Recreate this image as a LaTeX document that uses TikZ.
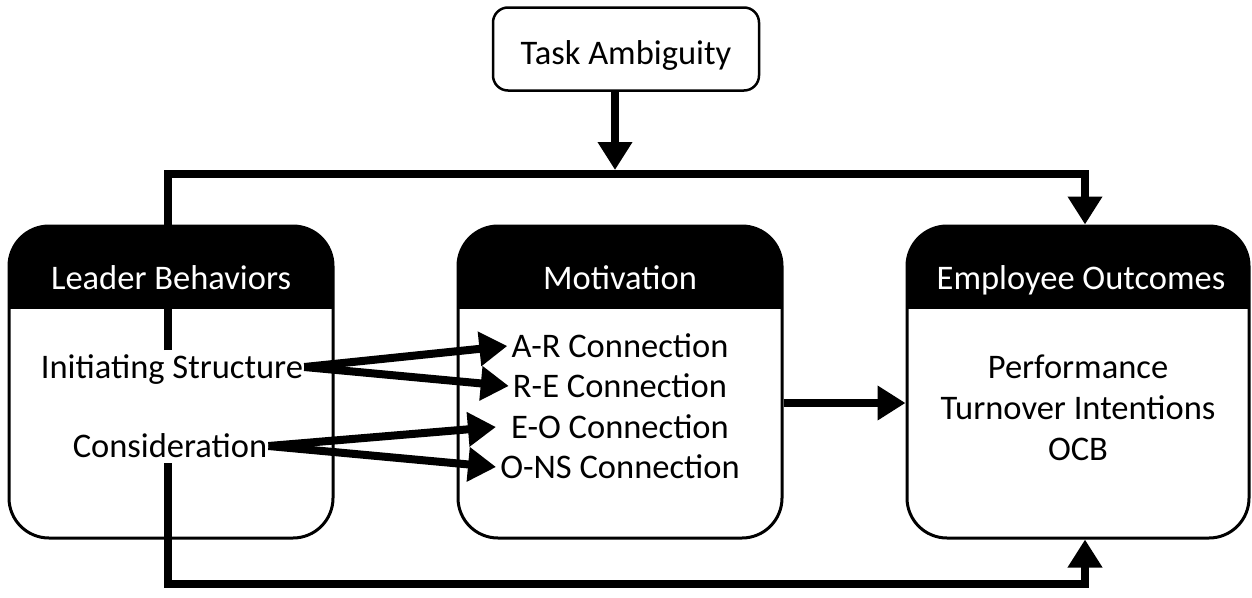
\documentclass[tikz,border=0pt]{standalone}
\usepackage{fontspec}
\setmainfont{Carlito}
\usetikzlibrary{arrows.meta}
\begin{document}
\begin{tikzpicture}[x=1pt,y=-1pt,
  hbox/.style={draw, line width=3pt, rounded corners=40pt, fill=white, minimum height=312pt, inner sep=0pt,
     path picture={\fill[black, sharp corners] (path picture bounding box.north west) rectangle ([yshift=-83pt]path picture bounding box.north east);}},
  txt/.style={font=\fontsize{34.5}{41}\selectfont, inner sep=1pt, text height=22pt, text depth=0pt},
  hdr/.style={txt, text=white},
  conn/.style={line width=8pt, -{Triangle[width=33pt,length=28pt]}}
]
\useasboundingbox (0,0) rectangle (1252,597);
% boxes
\node[hbox, minimum width=324pt] (lead) at (171,382) {};
\node[hbox, minimum width=324pt] (mot) at (620,382) {};
\node[hbox, minimum width=342pt] (emp) at (1078,382) {};
\node[draw, line width=2.5pt, rounded corners=15pt, minimum width=266pt, minimum height=83pt] (task) at (626,49) {};
\node[txt] (tasktxt) at (626,53) {Task Ambiguity};
% body texts
\node[txt] (is) at (172,367) {Initiating Structure};
\node[txt] (cons) at (170,446) {Consideration};
\node[txt] (ar) at (620,346) {A-R Connection};
\node[txt] (re) at (620,386) {R-E Connection};
\node[txt] (eo) at (620,427) {E-O Connection};
\node[txt] (ons) at (620,467) {O-NS Connection};
\node[txt] (perf) at (1078,367) {Performance};
\node[txt] (turn) at (1078,408) {Turnover Intentions};
\node[txt] (ocb) at (1078,449) {OCB};
% connector coordinates
\coordinate (ls) at (168,350);
\coordinate (le) at (168,463);
\coordinate (tl) at (168,174);
\coordinate (bl) at (168,584);
\coordinate (tr) at (1085,174);
\coordinate (br) at (1085,584);
\coordinate (tj) at (615,170);
% connectors
\draw[conn] (ls) -- (tl) -- (tr) -- (tr |- emp.north);
\draw[conn] (le) -- (bl) -- (br) -- (br |- emp.south);
\draw[conn] (tj |- task.south) -- (tj);
\draw[conn] (is.east) -- ([xshift=-3pt]ar.west);
\draw[conn] (is.east) -- ([xshift=-3pt]re.west);
\draw[conn] (cons.east) -- ([xshift=-14pt]eo.west);
\draw[conn] (cons.east) -- ([xshift=-3pt]ons.west);
\draw[conn] ([yshift=-21pt]mot.east) -- ([yshift=-21pt]emp.west);
% header texts
\node[hdr] (leadh) at (171,278) {Leader Behaviors};
\node[hdr] (moth) at (620,278) {Motivation};
\node[hdr] (emph) at (1081,278) {Employee Outcomes};
\end{tikzpicture}
\end{document}
